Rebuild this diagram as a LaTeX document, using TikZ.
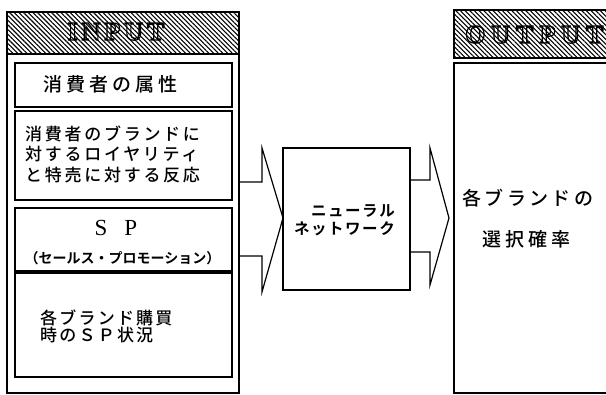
\documentclass[tikz,border=0pt]{standalone}
\usepackage{fontspec}
\newfontfamily\jp{Noto Sans CJK JP Medium}
\newfontfamily\jpb{Noto Sans CJK JP Bold}
\newfontfamily\hdr{Liberation Serif}
\usetikzlibrary{patterns.meta}
\newcommand\outl[1]{\special{pdf:literal direct 1 Tr 1.2 w}#1\special{pdf:literal direct 0 Tr}}
\begin{document}
\begin{tikzpicture}[x=1pt,y=-1pt,
  box/.style={draw, line width=1.3pt, inner sep=0pt, outer sep=0pt, anchor=north west},
  hatch/.style={pattern={Lines[angle=-45,distance=3.3pt,line width=1.1pt]}},
  arrowline/.style={draw, line width=1.2pt, line join=miter},
  jtxt/.style={inner sep=0pt, anchor=base west},
  htxt/.style={inner sep=0pt, font=\hdr\bfseries\fontsize{26}{28}\selectfont}]
\useasboundingbox (0,0) rectangle (606,395);
\clip (0,0) rectangle (606,395);
% INPUT side
\node[box, minimum width=232pt, minimum height=381pt] (inbox) at (7,12) {};
\node[box, hatch, minimum width=232pt, minimum height=42pt] (inhead) at (7,12) {};
\node[box, minimum width=217pt, minimum height=44pt] (attr) at (15,63) {};
\node[box, minimum width=217pt, minimum height=89pt] (loyal) at (15,111) {};
\node[box, minimum width=217pt, minimum height=63pt] (sp) at (15,208) {};
\node[box, minimum width=217pt, minimum height=104pt] (spst) at (15,273) {};
% network
\node[box, minimum width=127pt, minimum height=142pt] (nn) at (283,148) {};
% OUTPUT side
\node[box, hatch, minimum width=170pt, minimum height=48pt] (outhead) at (454,10) {};
\node[box, minimum width=170pt, minimum height=330pt] (outbox) at (454,63) {};
% arrows
\draw[arrowline] (inbox.east |- 0,182) -| (262,148) -- (nn.west |- 0,218) -- (262,292) |- (inbox.east |- 0,256);
\draw[arrowline] (nn.east |- 0,180) -| (430,148) -- (449,218) -- (430,285) |- (nn.east |- 0,252);
% texts
\node[htxt, anchor=base] (tin) at (116,40) {\outl{I\hspace{4pt}N\hspace{4pt}P\hspace{4pt}U\hspace{4pt}T}};
\node[htxt, anchor=base west] (tout) at (465,43) {\outl{O\hspace{6pt}U\hspace{6pt}T\hspace{6pt}P\hspace{6pt}U\hspace{6pt}T}};
\node[jtxt, font=\jp\fontsize{19}{21}\selectfont\addfontfeatures{LetterSpace=21}] (tattr) at (43,92) {消費者の属性};
\begin{scope}[every node/.style={jtxt, font=\jp\fontsize{17}{19}\selectfont\addfontfeatures{LetterSpace=16}}]
\node (tloyal1) at (25,141) {消費者のブランドに};
\node (tloyal2) at (25,161) {対するロイヤリティ};
\node (tloyal3) at (25,182) {と特売に対する反応};
\end{scope}
\node[inner sep=0pt, anchor=base, font=\hdr\fontsize{23}{25}\selectfont] (tsp) at (116,236) {S\hspace{17pt}P};
\node[inner sep=0pt, anchor=base, font=\jpb\fontsize{14}{16}\selectfont] (tspsub) at (122.5,264) {（セールス・プロモーション）};
\begin{scope}[every node/.style={jtxt, font=\jp\fontsize{17}{19}\selectfont\addfontfeatures{LetterSpace=13}}]
\node (tspst1) at (40,325) {各ブランド購買};
\node (tspst2) at (40,342) {時のＳＰ状況};
\end{scope}
\begin{scope}[every node/.style={inner sep=0pt, anchor=base east, font=\jpb\fontsize{15.5}{16}\selectfont\addfontfeatures{LetterSpace=10}}]
\node (tnn1) at (395,217) {ニューラル};
\node (tnn2) at (395,235) {ネットワーク};
\end{scope}
\node[jtxt, font=\jp\fontsize{19}{21}\selectfont\addfontfeatures{LetterSpace=18}] (tout1) at (462,206) {各ブランドの};
\node[jtxt, font=\jp\fontsize{19}{21}\selectfont\addfontfeatures{LetterSpace=21}] (tout2) at (482,247) {選択確率};
\end{tikzpicture}
\end{document}
